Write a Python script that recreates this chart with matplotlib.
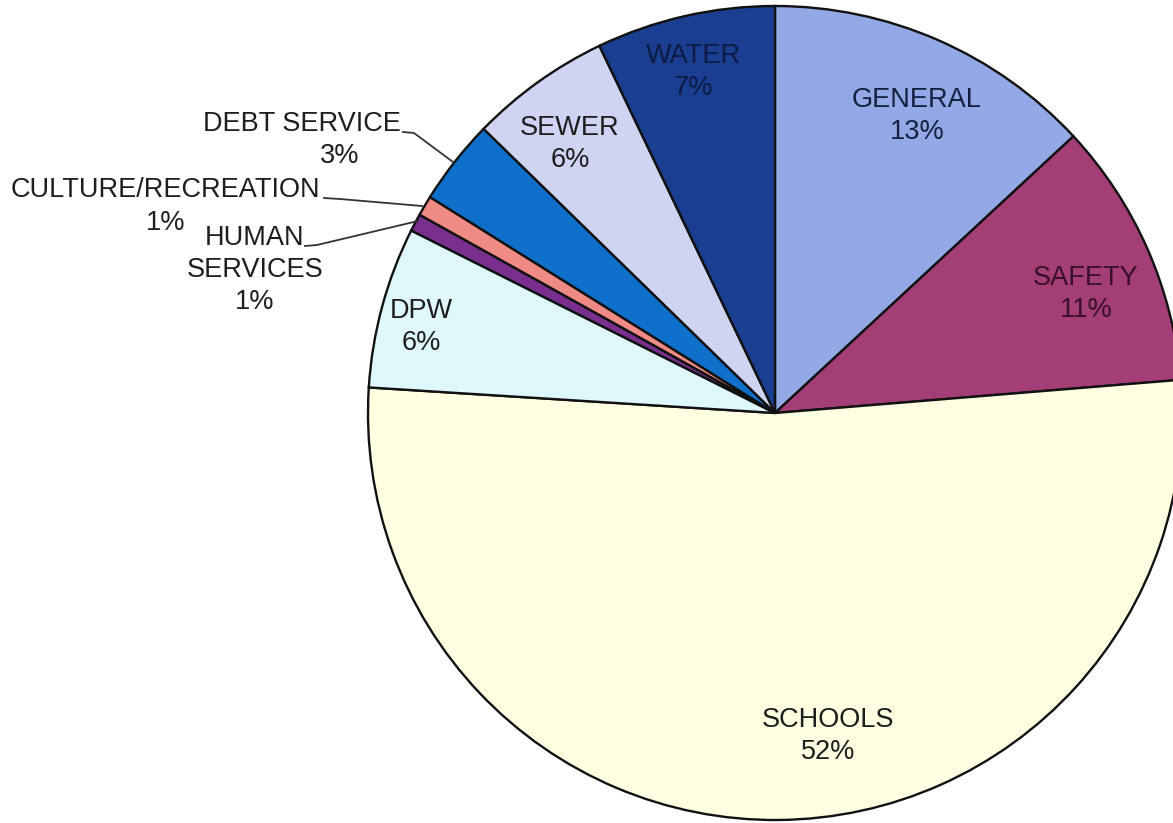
import matplotlib.pyplot as plt

# slices, clockwise from 12 o'clock
categories = ["GENERAL", "SAFETY", "SCHOOLS", "DPW", "HUMAN\nSERVICES",
              "CULTURE/RECREATION", "DEBT SERVICE", "SEWER", "WATER"]
shares = [13.1, 10.6, 52.3, 6.4, 0.7, 0.8, 3.4, 5.6, 7.1]
colors = ["#93A9E6", "#A33E76", "#FFFFE1", "#DDF7FA", "#7A2E8E",
          "#F08A84", "#0F70CC", "#CED4F1", "#1B3F90"]
text_colors = ["#14203f", "#3a1028", "#1e1e1e", "#1e1e1e", "#1e1e1e",
               "#1e1e1e", "#1e1e1e", "#1e1e1e", "#0c1a45"]

W, H = 1173, 823
CENTER = (775, H - 413)
RADIUS = 407
FS = 19.5

# label anchor (pixel x, pixel y from top)
LABEL_POS = {
    "GENERAL": (917, 116),
    "SAFETY": (1086, 294),
    "SCHOOLS": (828, 736),
    "DPW": (421, 327),
    "HUMAN\nSERVICES": (255, 270),
    "SEWER": (570, 144),
    "WATER": (693, 72),
}
# outside labels: name line position and percent line position
OUTSIDE_POS = {
    "CULTURE/RECREATION": ((165, 190), (166, 223)),
    "DEBT SERVICE": ((302, 124), (340, 156)),
}
# leader lines for outside labels (pixel coords from top)
LEADERS = {
    "DEBT SERVICE": [(403, 132), (414, 133), (453, 162)],
    "CULTURE/RECREATION": [(324, 198), (340, 199), (422, 206)],
    "HUMAN\nSERVICES": [(305, 246), (317, 245), (418, 221)],
}

plt.rcParams["font.family"] = ["Liberation Sans", "DejaVu Sans"]
fig = plt.figure(figsize=(W / 100, H / 100), dpi=100)
ax = fig.add_axes([0, 0, 1, 1])

ax.pie(shares, colors=colors, startangle=90, counterclock=False,
       center=CENTER, radius=RADIUS, frame=True,
       wedgeprops=dict(edgecolor="#111111", linewidth=1.7))
ax.set_xlim(0, W)
ax.set_ylim(0, H)
ax.set_aspect("equal")
ax.axis("off")

for name, share, tc in zip(categories, shares, text_colors):
    pct = f"{round(share):d}%"
    if name in OUTSIDE_POS:
        (nx, ny), (px, py) = OUTSIDE_POS[name]
        ax.text(nx, H - ny, name, ha="center", va="center", fontsize=FS, color=tc)
        ax.text(px, H - py, pct, ha="center", va="center", fontsize=FS, color=tc)
        continue
    x, y = LABEL_POS[name]
    ax.text(x, H - y, f"{name}\n{pct}", ha="center", va="center", fontsize=FS,
            color=tc, linespacing=1.3)

for name, pts in LEADERS.items():
    ax.plot([p[0] for p in pts], [H - p[1] for p in pts], color="#333333", lw=1.3)

fig.savefig("out.png", dpi=100)
